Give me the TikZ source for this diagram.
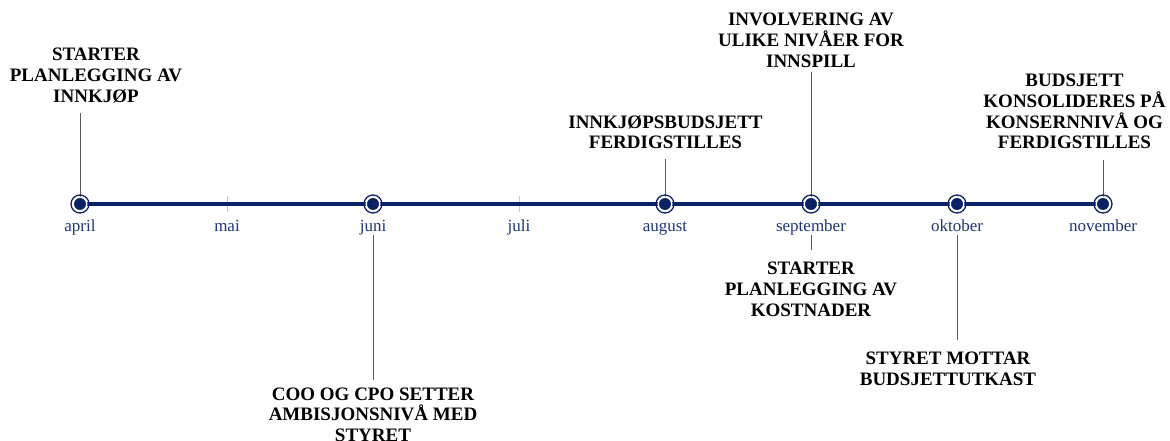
\documentclass[tikz,border=0pt]{standalone}
\usepackage{fontspec}
\setmainfont{Liberation Serif}
\definecolor{navy}{HTML}{0B2265}
\definecolor{monthc}{HTML}{1E3675}
\definecolor{conn}{HTML}{5A5A5A}
\definecolor{tickc}{HTML}{C8CCD6}
\begin{document}
\begin{tikzpicture}[x=1pt,y=-1pt,
  evt/.style={font=\bfseries\fontsize{19}{20.7}\selectfont,align=center,inner sep=0pt,text=black},
  month/.style={font=\fontsize{17}{18}\selectfont,text=monthc,inner sep=0pt,anchor=base},
  conline/.style={draw=conn,line width=0.9pt},
  axisline/.style={draw=navy,line width=4pt},
  dotnode/.style={circle,fill=navy,draw=white,line width=1.3pt,minimum size=13.5pt,inner sep=0pt},
  ringnode/.style={circle,draw=navy,line width=1.3pt,minimum size=18pt,inner sep=0pt},
  tickmark/.style={draw=tickc,line width=0.8pt}]
\useasboundingbox (0,0) rectangle (1170,441);
% axis
\coordinate (a0) at (80,204);
\coordinate (a1) at (1103,204);
\foreach \x/\n in {80/apr,227/mai,373/jun,519/jul,665/aug,811/sep,957/okt,1103/nov}{
  \coordinate (t\n) at (\x,204);
  \draw[tickmark] (\x,196) -- (\x,212);
}
\draw[axisline] (a0) -- (a1);
% month labels
\node[month] (mapr) at (80,231) {april};
\node[month] (mmai) at (227,231) {mai};
\node[month] (mjun) at (373,231) {juni};
\node[month] (mjul) at (519,231) {juli};
\node[month] (maug) at (665,231) {august};
\node[month] (msep) at (811,231) {september};
\node[month] (mokt) at (957,231) {oktober};
\node[month] (mnov) at (1103,231) {november};
% event labels
\node[evt] (e1) at (96,75.5) {STARTER\\PLANLEGGING AV\\INNKJØP};
\node[evt] (e2) at (373,414.5) {COO OG CPO SETTER\\AMBISJONSNIVÅ MED\\STYRET};
\node[evt] (e3) at (665.5,132) {INNKJØPSBUDSJETT\\FERDIGSTILLES};
\node[evt] (e4) at (811,40.5) {INVOLVERING AV\\ULIKE NIVÅER FOR\\INNSPILL};
\node[evt] (e5) at (811,289.5) {STARTER\\PLANLEGGING AV\\KOSTNADER};
\node[evt] (e6) at (948,369) {STYRET MOTTAR\\BUDSJETTUTKAST};
\node[evt] (e7) at (1074.5,111.5) {BUDSJETT\\KONSOLIDERES PÅ\\KONSERNNIVÅ OG\\FERDIGSTILLES};
% connector ends
\coordinate (c1) at (80,113);
\coordinate (c2) at (373,380);
\coordinate (c3) at (665,159);
\coordinate (c4) at (811,72);
\coordinate (c5) at (811,250);
\coordinate (c6) at (957,340);
\coordinate (c7) at (1103,160);
% connectors
\draw[conline] (c1) -- (tapr);
\draw[conline] (c3) -- (taug);
\draw[conline] (c4) -- (tsep);
\draw[conline] (c7) -- (tnov);
\draw[conline] (373,235) -- (c2);
\draw[conline] (811,235) -- (c5);
\draw[conline] (957,235) -- (c6);
% dots
\foreach \n in {apr,jun,aug,sep,okt,nov}{
  \node[ringnode] (r\n) at (t\n) {};
  \node[dotnode] (d\n) at (t\n) {};
}
\end{tikzpicture}
\end{document}
